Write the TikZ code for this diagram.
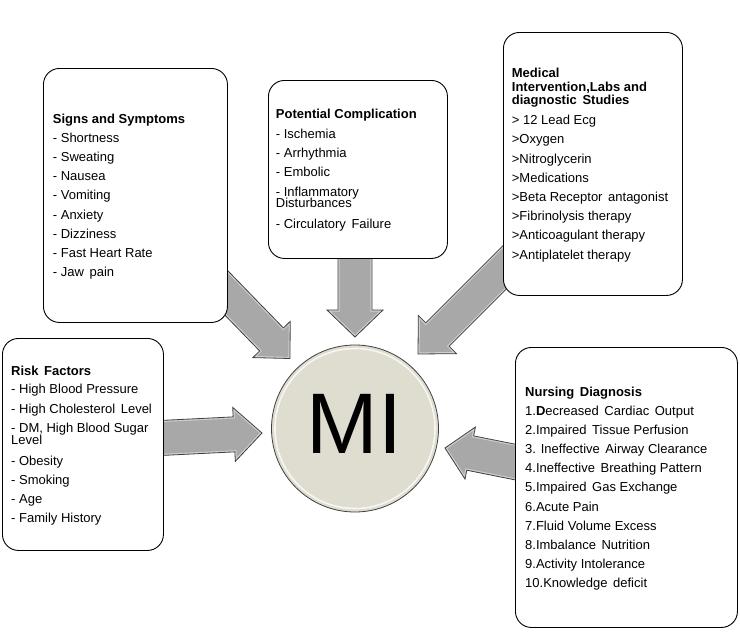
\documentclass[tikz,border=0pt]{standalone}
\usepackage{fontspec}
\setmainfont{Liberation Sans}
\usetikzlibrary{calc}
\definecolor{arrowgray}{HTML}{A8A8A8}
\definecolor{arrowedge}{HTML}{3F3F3F}
\definecolor{circfill}{HTML}{DFDCD0}
\newcommand\wsp{\hspace{5.6pt}}
\tikzset{
  box/.style={draw=black, line width=0.9pt, fill=white, rounded corners=16pt, anchor=north west, inner sep=0pt},
  txt/.style={anchor=base west, inner sep=0pt, font=\fontsize{13}{15}\selectfont},
  ttl/.style={anchor=base west, inner sep=0pt, font=\fontsize{13}{15}\selectfont\bfseries},
  arrowbody/.style={fill=arrowgray},
  arrowrim/.style={draw=white, line width=3.2pt, opacity=0.45, line join=miter},
  arrowline/.style={draw=arrowedge, line width=0.8pt, line join=miter},
}
% #1 tail, #2 tip, #3 half shaft width, #4 half head width, #5 head length
\newcommand\fatarrow[5]{%
  \path ($(#2)!#5!(#1)$) coordinate (hb);
  \path ($(hb)!#4!90:(#2)$) coordinate (#2a)
        ($(hb)!#3!90:(#2)$) coordinate (#2b)
        ($(#1)!#3!90:(#2)$) coordinate (#2c)
        ($(#1)!#3!-90:(#2)$) coordinate (#2d)
        ($(hb)!#3!-90:(#2)$) coordinate (#2e)
        ($(hb)!#4!-90:(#2)$) coordinate (#2f);
  \begin{scope}
    \clip (#2) -- (#2a) -- (#2b) -- (#2c) -- (#2d) -- (#2e) -- (#2f) -- cycle;
    \fill[arrowbody] (#2) -- (#2a) -- (#2b) -- (#2c) -- (#2d) -- (#2e) -- (#2f) -- cycle;
    \draw[arrowrim] (#2) -- (#2a) -- (#2b) -- (#2c) -- (#2d) -- (#2e) -- (#2f) -- cycle;
  \end{scope}
  \draw[arrowline] (#2) -- (#2a) -- (#2b) -- (#2c) -- (#2d) -- (#2e) -- (#2f) -- cycle;
}
\begin{document}
\begin{tikzpicture}[x=1pt,y=-1pt]
\useasboundingbox (0,0) rectangle (740,635);

% arrow end points
\coordinate (t1) at (208,274);   \coordinate (p1) at (290,358.5);
\coordinate (t2) at (355,250);   \coordinate (p2) at (355,337);
\coordinate (t3) at (520,252);   \coordinate (p3) at (418,354);
\coordinate (t4) at (150,438.5); \coordinate (p4) at (262,433);
\coordinate (t5) at (530,465);   \coordinate (p5) at (445,448);

\fatarrow{t1}{p1}{16.5pt}{26pt}{26.5pt}
\fatarrow{t2}{p2}{17pt}{28pt}{27pt}
\fatarrow{t3}{p3}{16.5pt}{27pt}{27.5pt}
\fatarrow{t4}{p4}{17.5pt}{27pt}{28pt}
\fatarrow{t5}{p5}{17.5pt}{26.5pt}{25.7pt}

% boxes
\node[box, minimum width=184pt, minimum height=254pt] (signs) at (43,68) {};
\node[box, minimum width=179pt, minimum height=178pt] (comp) at (268,80) {};
\node[box, minimum width=179pt, minimum height=263pt] (med) at (503,32) {};
\node[box, minimum width=161pt, minimum height=212pt] (risk) at (2,338) {};
\node[box, minimum width=222pt, minimum height=280pt] (nurs) at (515,347) {};

% Signs and Symptoms
\node[ttl] (s0) at (52.7,123) {Signs and Symptoms};
\foreach \t/\y [count=\i] in {{- Shortness}/137.7, {- Sweating}/156.9, {- Nausea}/176.1,
  {- Vomiting}/195.3, {- Anxiety}/214.5, {- Dizziness}/233.7, {- Fast Heart Rate}/252.9, {- Jaw\wsp pain}/272.1}
  \node[txt] (s\i) at (52.7,\y+4.6) {\t};

% Potential Complication
\node[ttl] (c0) at (275.7,118.9) {Potential Complication};
\foreach \t/\y [count=\i] in {{- Ischemia}/133.7, {- Arrhythmia}/152.9, {- Embolic}/172.1,
  {- Inflammatory}/191.5, {Disturbances}/203.3, {- Circulatory\wsp Failure}/224}
  \node[txt] (c\i) at (275.7,\y+4.6) {\t};

% Medical Intervention
\node[ttl] (m0a) at (511.7,77.9) {Medical};
\node[ttl] (m0b) at (511.7,91.3) {Intervention,Labs and};
\node[ttl] (m0c) at (511.7,104.6) {diagnostic\wsp Studies};
\foreach \t/\y [count=\i] in {{> 12 Lead Ecg}/120, {>Oxygen}/139.2, {>Nitroglycerin}/158.4,
  {>Medications}/177.6, {>Beta Receptor\wsp antagonist}/196.8, {>Fibrinolysis therapy}/216,
  {>Anticoagulant therapy}/235.2, {>Antiplatelet therapy}/254.4}
  \node[txt] (m\i) at (511.7,\y+4.6) {\t};

% Risk Factors
\node[ttl] (r0) at (11,375.4) {Risk\wsp Factors};
\foreach \t/\y [count=\i] in {{- High Blood Pressure}/389.3, {- High Cholesterol\wsp Level}/408.5,
  {- DM, High Blood Sugar}/427.7, {Level}/439.6, {- Obesity}/460.7, {- Smoking}/479.9,
  {- Age}/499.1, {- Family History}/518.3}
  \node[txt] (r\i) at (11,\y+4.6) {\t};

% Nursing Diagnosis
\node[ttl] (n0) at (525,396.3) {Nursing\wsp Diagnosis};
\foreach \t/\y [count=\i] in {{1.\textbf{D}ecreased\wsp Cardiac\wsp Output}/410.5, {2.Impaired\wsp Tissue Perfusion}/429.7,
  {3. Ineffective\wsp Airway Clearance}/448.9, {4.Ineffective\wsp Breathing Pattern}/468.1,
  {5.Impaired\wsp Gas Exchange}/487.3, {6.Acute Pain}/506.5, {7.Fluid Volume Excess}/525.7,
  {8.Imbalance\wsp Nutrition}/544.9, {9.Activity Intolerance}/564.1, {10.Knowledge\wsp deficit}/583.3}
  \node[txt] (n\i) at (525,\y+4.6) {\t};

% central circle
\node[circle, draw=arrowedge, fill=circfill, line width=0.8pt, minimum size=167pt, inner sep=0pt] (mi) at (355,428.5) {};
\draw[draw=white, line width=1.6pt, opacity=0.75] (mi.center) circle[radius=80pt];
\node[inner sep=0pt, font=\fontsize{86}{86}\selectfont] (mitext) at (354.5,423.5) {MI};
\end{tikzpicture}
\end{document}
